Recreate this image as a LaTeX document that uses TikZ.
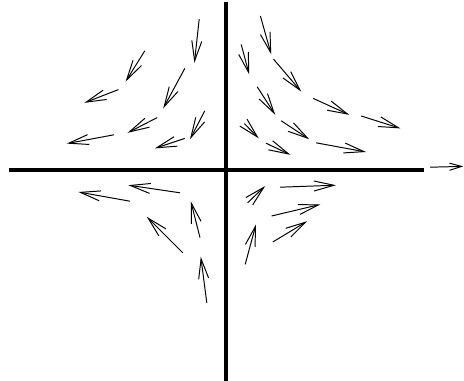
\documentclass[tikz,border=0pt]{standalone}
\usepackage{tikz}
\usetikzlibrary{arrows.meta}
\tikzset{
    eixo/.style={draw=black, line width=2.6pt},
    vetor/.style={draw=black, line width=0.7pt, -{Straight Barb[length=5mm, width=2.5mm]}},
    seta/.style={draw=black, line width=0.7pt, -{Straight Barb[length=3mm, width=1.8mm]}}
}
\begin{document}
\begin{tikzpicture}
    \useasboundingbox (-5.65,-5.275) rectangle (5.95,4.25);
    % eixos
    \draw[eixo] (-5.43,0) -- (4.94,0);
    \draw[eixo] (0,4.19) -- (0,-5.4);
    \draw[seta] (5.1,0.07) -- (5.93,0.09);
    % segundo quadrante
    \draw[vetor] (-0.67,3.77) -- (-0.79,2.68);
    \draw[vetor] (-2.03,2.98) -- (-2.51,2.21);
    \draw[vetor] (-1.03,2.54) -- (-1.57,1.54);
    \draw[vetor] (-2.69,2.01) -- (-3.54,1.68);
    \draw[vetor] (-0.53,1.48) -- (-0.90,0.77);
    \draw[vetor] (-1.72,1.31) -- (-2.46,0.93);
    \draw[vetor] (-1.03,0.79) -- (-1.78,0.54);
    \draw[vetor] (-2.80,0.88) -- (-3.98,0.66);
    % primeiro quadrante
    \draw[vetor] (0.86,3.85) -- (1.13,2.89);
    \draw[vetor] (0.38,3.14) -- (0.58,2.39);
    \draw[vetor] (1.19,2.77) -- (1.88,1.96);
    \draw[vetor] (0.78,2.08) -- (1.23,1.38);
    \draw[vetor] (2.18,1.79) -- (3.08,1.38);
    \draw[vetor] (3.38,1.35) -- (4.36,1.04);
    \draw[vetor] (0.46,1.16) -- (0.82,0.79);
    \draw[vetor] (1.38,1.23) -- (2.08,0.77);
    \draw[vetor] (1.00,0.67) -- (1.61,0.38);
    \draw[vetor] (2.25,0.68) -- (3.50,0.45);
    % terceiro quadrante
    \draw[vetor] (-2.40,-0.78) -- (-3.69,-0.55);
    \draw[vetor] (-1.15,-0.57) -- (-2.44,-0.38);
    \draw[vetor] (-0.65,-1.69) -- (-0.88,-0.78);
    \draw[vetor] (-1.08,-2.07) -- (-1.98,-1.17);
    \draw[vetor] (-0.48,-3.32) -- (-0.63,-2.17);
    % quarto quadrante
    \draw[vetor] (0.54,-0.82) -- (0.98,-0.40);
    \draw[vetor] (1.35,-0.43) -- (2.75,-0.38);
    \draw[vetor] (1.14,-1.15) -- (2.36,-0.86);
    \draw[vetor] (1.17,-1.80) -- (2.03,-1.28);
    \draw[vetor] (0.48,-2.36) -- (0.75,-1.36);
\end{tikzpicture}
\end{document}
